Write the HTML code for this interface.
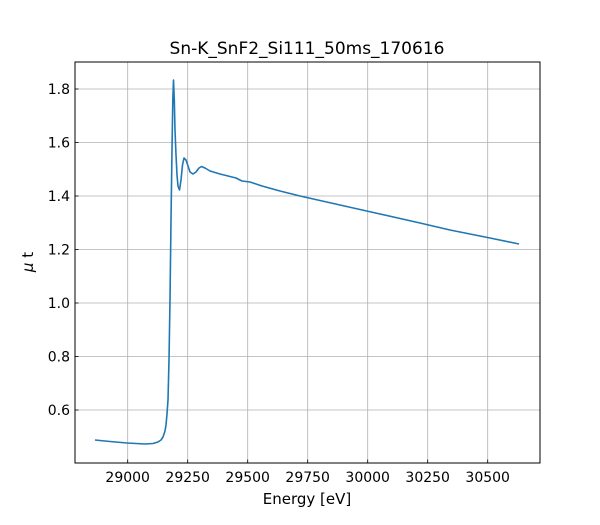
<!DOCTYPE html>
<html><head><style>body{margin:0;background:#fff}</style></head><body>
<svg width="600" height="520" xmlns="http://www.w3.org/2000/svg" font-family="DejaVu Sans, Liberation Sans, sans-serif">
<rect width="600" height="520" fill="#fff"/>
<g stroke="#b0b0b0" stroke-width="0.8">
<line x1="127.7" y1="62" x2="127.7" y2="463"/><line x1="187.7" y1="62" x2="187.7" y2="463"/><line x1="247.7" y1="62" x2="247.7" y2="463"/><line x1="307.7" y1="62" x2="307.7" y2="463"/><line x1="367.7" y1="62" x2="367.7" y2="463"/><line x1="427.7" y1="62" x2="427.7" y2="463"/><line x1="487.7" y1="62" x2="487.7" y2="463"/>
<line x1="75" y1="410" x2="540" y2="410"/><line x1="75" y1="356.5" x2="540" y2="356.5"/><line x1="75" y1="303" x2="540" y2="303"/><line x1="75" y1="249.5" x2="540" y2="249.5"/><line x1="75" y1="196" x2="540" y2="196"/><line x1="75" y1="142.5" x2="540" y2="142.5"/><line x1="75" y1="89" x2="540" y2="89"/>
</g>
<polyline fill="none" stroke="#1f77b4" stroke-width="1.6" stroke-linejoin="round" points="95,440 110,441.5 127,443 145,444 153,443.5 158,442 161,440 163,437 165,431 166,425 167,414 168,400 169,360 170,300 171,220 172,150 172.8,100 173.5,80 174.3,100 175,130 176,155 177,175 178,186 179.5,190 181,180 182.5,165 184,158 186,160 188,166 190,172 193,174 196,172 199,168 201.5,166.5 205,168 210,171 220,174 228,176 236,178 242,181 250,182 262,186 280,191 300,196 340,205 380,214 420,223 450,230 490,238 519,244"/>
<rect x="75" y="62" width="465" height="401" fill="none" stroke="#000" stroke-width="1"/>
<g stroke="#000" stroke-width="0.8">
<line x1="127.7" y1="463" x2="127.7" y2="459.5"/><line x1="187.7" y1="463" x2="187.7" y2="459.5"/><line x1="247.7" y1="463" x2="247.7" y2="459.5"/><line x1="307.7" y1="463" x2="307.7" y2="459.5"/><line x1="367.7" y1="463" x2="367.7" y2="459.5"/><line x1="427.7" y1="463" x2="427.7" y2="459.5"/><line x1="487.7" y1="463" x2="487.7" y2="459.5"/>
<line x1="75" y1="410" x2="78.5" y2="410"/><line x1="75" y1="356.5" x2="78.5" y2="356.5"/><line x1="75" y1="303" x2="78.5" y2="303"/><line x1="75" y1="249.5" x2="78.5" y2="249.5"/><line x1="75" y1="196" x2="78.5" y2="196"/><line x1="75" y1="142.5" x2="78.5" y2="142.5"/><line x1="75" y1="89" x2="78.5" y2="89"/>
</g>
<g font-size="14" fill="#000" text-anchor="middle">
<text x="127.7" y="482">29000</text><text x="187.7" y="482">29250</text><text x="247.7" y="482">29500</text><text x="307.7" y="482">29750</text><text x="367.7" y="482">30000</text><text x="427.7" y="482">30250</text><text x="487.7" y="482">30500</text>
</g>
<g font-size="14" fill="#000" text-anchor="end">
<text x="70" y="415">0.6</text><text x="70" y="361.5">0.8</text><text x="70" y="308">1.0</text><text x="70" y="254.5">1.2</text><text x="70" y="201">1.4</text><text x="70" y="147.5">1.6</text><text x="70" y="94">1.8</text>
</g>
<text x="307" y="504" font-size="15" text-anchor="middle">Energy [eV]</text>
<text x="307" y="54" font-size="17" text-anchor="middle">Sn-K_SnF2_Si111_50ms_170616</text>
<text transform="translate(33,262) rotate(-90)" font-size="15" text-anchor="middle"><tspan font-style="italic">μ</tspan> t</text>
</svg>
</body></html>
